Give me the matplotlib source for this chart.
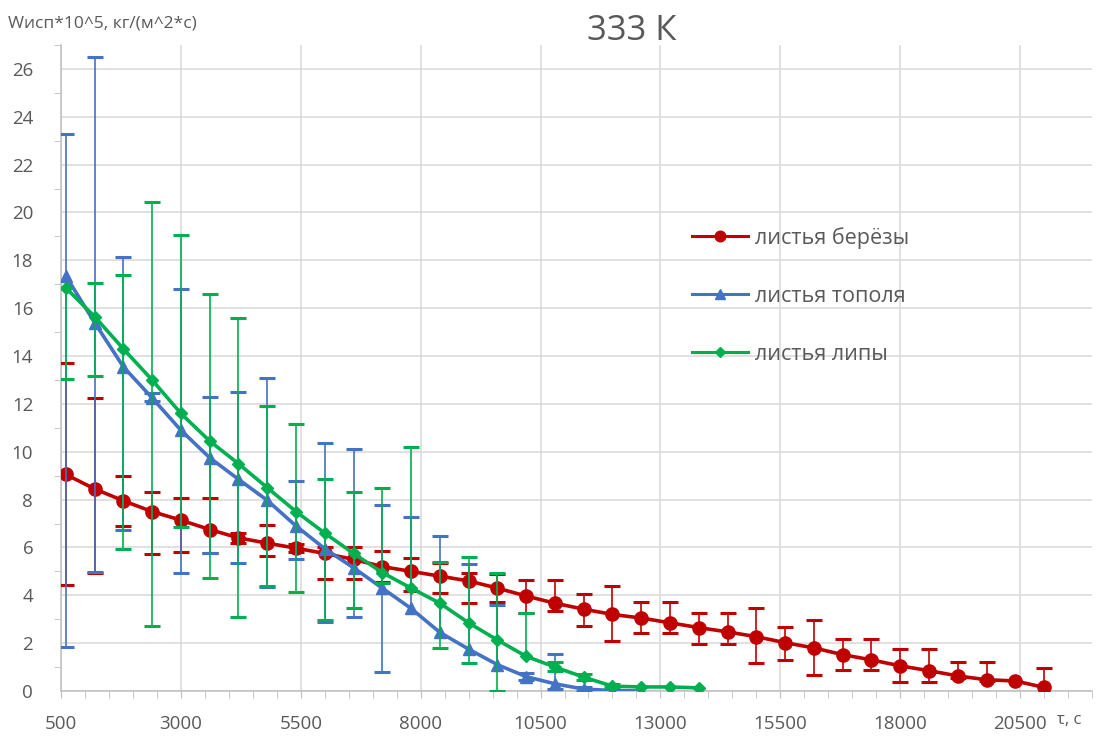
import numpy as np
import matplotlib
matplotlib.use("Agg")
import matplotlib.pyplot as plt
from matplotlib.lines import Line2D
from matplotlib.ticker import MultipleLocator

plt.rcParams['font.family'] = ['Open Sans', 'DejaVu Sans']

nan = np.nan

# время, с
birch_t = [600, 1200, 1800, 2400, 3000, 3600, 4200, 4800, 5400, 6000, 6600, 7200,
           7800, 8400, 9000, 9600, 10200, 10800, 11400, 12000, 12600, 13200, 13800,
           14400, 15000, 15600, 16200, 16800, 17400, 18000, 18600, 19200, 19800,
           20400, 21000]
poplar_t = [600, 1200, 1800, 2400, 3000, 3600, 4200, 4800, 5400, 6000, 6600, 7200,
            7800, 8400, 9000, 9600, 10200, 10800, 11400, 12000, 12600]
linden_t = [600, 1200, 1800, 2400, 3000, 3600, 4200, 4800, 5400, 6000, 6600, 7200,
            7800, 8400, 9000, 9600, 10200, 10800, 11400, 12000, 12600, 13200, 13800]

# скорость испарения и границы разброса
birch = [9.05, 8.45, 7.95, 7.5, 7.14, 6.75, 6.4, 6.18, 5.97, 5.75, 5.5, 5.2, 5.0, 4.8,
         4.6, 4.3, 3.97, 3.67, 3.42, 3.2, 3.05, 2.85, 2.65, 2.47, 2.27, 2.02, 1.8, 1.52,
         1.3, 1.05, 0.85, 0.63, 0.47, 0.42, 0.15]
birch_hi = [13.7, 12.23, 8.98, 8.3, 8.06, 8.06, 6.6, 6.93, 6.15, 6.0, 6.0, 5.85, 5.55,
            5.35, 4.93, 4.9, 4.63, 4.63, 4.05, 4.38, 3.72, 3.72, 3.26, 3.26, 3.47, 2.67,
            2.96, 2.17, 2.17, 1.75, 1.75, 1.21, 1.21, nan, 0.96]
birch_lo = [4.45, 4.95, 6.9, 5.72, 5.8, 5.78, 6.2, 5.64, 5.8, 4.7, 4.7, 4.55, 4.2, 4.08,
            3.67, 3.7, 3.26, 3.34, 2.71, 2.09, 2.42, 2.42, 1.96, 1.96, 1.17, 1.29, 0.67,
            0.88, 0.88, 0.38, 0.38, 0.55, 0.4, nan, -0.7]

poplar = [17.35, 15.4, 13.55, 12.25, 10.9, 9.75, 8.85, 7.97, 6.9, 5.95, 5.15, 4.3, 3.45,
          2.45, 1.75, 1.1, 0.6, 0.3, 0.08, 0.02, 0.0]
poplar_hi = [23.3, 26.5, 18.15, 12.45, 16.8, 12.3, 12.5, 13.1, 8.77, 10.35, 10.1, 7.77,
             7.27, 6.47, 5.3, 3.6, 0.75, 1.55, 0.15, nan, nan]
poplar_lo = [1.85, 4.97, 6.72, 12.1, 4.93, 5.76, 5.34, 4.34, 5.5, 2.88, 3.09, 0.8,
             nan, nan, nan, nan, 0.45, 0.1, 0.0, nan, nan]

linden = [16.85, 15.65, 14.3, 13.0, 11.6, 10.45, 9.5, 8.5, 7.5, 6.6, 5.75, 4.95, 4.3,
          3.67, 2.85, 2.13, 1.45, 1.0, 0.58, 0.2, 0.17, 0.17, 0.13]
linden_hi = [nan, 17.07, 17.37, 20.45, 19.05, 16.6, 15.57, 11.9, 11.15, 8.85, 8.3, 8.48,
             10.2, 5.4, 5.6, 4.93, 3.26, 1.2, 0.7, 0.3, nan, nan, nan]
linden_lo = [13.03, 13.15, 5.93, 2.71, 6.85, 4.72, 3.09, 4.38, 4.13, 2.95, 3.47, 4.5,
             nan, 1.8, 1.17, 0.0, nan, 0.85, 0.45, 0.15, nan, nan, nan]

series = [
    ('листья берёзы', birch_t, birch, birch_lo, birch_hi, '#C00000', 'o', 9.5),
    ('листья тополя', poplar_t, poplar, poplar_lo, poplar_hi, '#4472C4', '^', 9),
    ('листья липы', linden_t, linden, linden_lo, linden_hi, '#00B050', 'D', 6),
]

fig = plt.figure(figsize=(10.97, 7.36), dpi=100)
ax = fig.add_axes([61 / 1097, 1 - 691 / 736, 1031 / 1097, 646 / 736])

handles = []
for i, (name, t, y, lo, hi, color, marker, ms) in enumerate(series):
    t = np.array(t, float)
    y = np.array(y, float)
    lo = np.array(lo, float)
    hi = np.array(hi, float)
    z = 3 + i
    # усы погрешности
    ax.vlines(t, np.where(np.isnan(lo), y, lo), np.where(np.isnan(hi), y, hi),
              color=color, lw=1.2, zorder=z)
    ax.plot(t, hi, ls='none', marker='_', ms=12, mew=2.2, color=color, zorder=z)
    ax.plot(t, lo, ls='none', marker='_', ms=12, mew=2.2, color=color, zorder=z)
    ax.plot(t, y, color=color, lw=2.6, marker=marker, ms=ms, zorder=z + 0.5)
    handles.append(Line2D([], [], color=color, lw=2.2, marker=marker, ms=ms * 0.8))

ax.set_xlim(500, 22000)
ax.set_ylim(0, 27)
ax.set_xticks(np.arange(500, 22000, 2500))
ax.xaxis.set_minor_locator(MultipleLocator(500))
ax.yaxis.set_major_locator(MultipleLocator(2))
ax.yaxis.set_minor_locator(MultipleLocator(1))
ax.grid(True, which='major', color='#d9d9d9', lw=1.1, zorder=0)
ax.set_axisbelow(True)

for s in ['top', 'right']:
    ax.spines[s].set_visible(False)
for s in ['left', 'bottom']:
    ax.spines[s].set_color('#bfbfbf')
    ax.spines[s].set_linewidth(1.1)

ax.tick_params(which='both', colors='#bfbfbf', labelcolor='#595959', labelsize=13.5)
ax.tick_params(axis='x', which='major', length=5, pad=12)
ax.tick_params(axis='x', which='minor', length=5)
ax.tick_params(axis='y', which='major', length=0, pad=20)
ax.tick_params(axis='y', which='minor', length=5)

fig.text(632 / 1097, 1 - 31 / 736, '333 К', ha='center', va='center',
         fontsize=25, color='#595959')
fig.text(8 / 1097, 1 - 24 / 736, 'Wисп*10^5, кг/(м^2*с)', ha='left', va='center',
         fontsize=12.5, color='#595959')
fig.text(1057 / 1097, 1 - 720 / 736, 'τ, с', ha='left', va='center',
         fontsize=12, color='#595959')

ax.legend(handles, [s[0] for s in series], loc='upper left',
          bbox_to_anchor=(692 / 1097, 1 - 227 / 736), bbox_transform=fig.transFigure,
          frameon=False, fontsize=15.5, labelcolor='#595959', handlelength=2.6,
          handletextpad=0.33, labelspacing=1.72, borderaxespad=0, borderpad=0)

fig.savefig('out.png', dpi=100, facecolor='white')
